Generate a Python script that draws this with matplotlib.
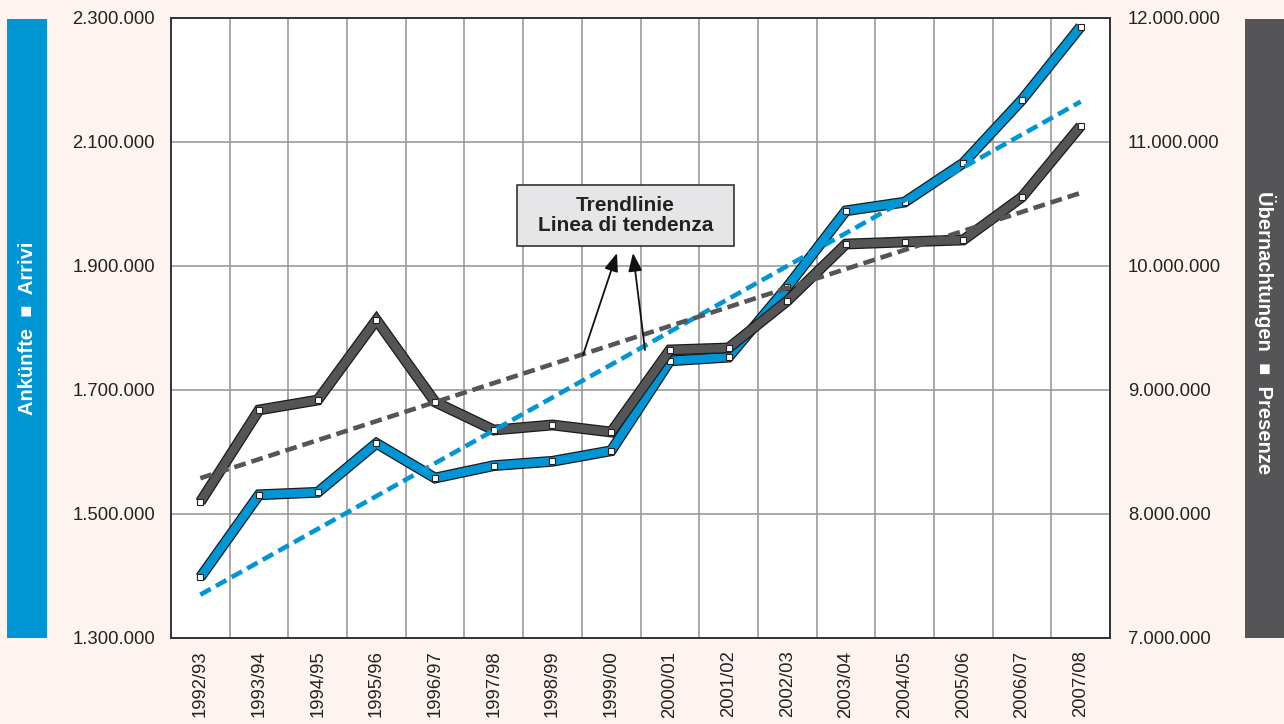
import matplotlib
matplotlib.use("Agg")
import matplotlib.pyplot as plt
import matplotlib.patheffects as pe
import numpy as np
from matplotlib.ticker import FuncFormatter, MultipleLocator

plt.rcParams['font.family'] = ['Liberation Sans', 'DejaVu Sans']

seasons = ["1992/93", "1993/94", "1994/95", "1995/96", "1996/97", "1997/98", "1998/99",
           "1999/00", "2000/01", "2001/02", "2002/03", "2003/04", "2004/05", "2005/06",
           "2006/07", "2007/08"]
arrivi = [1398000, 1531000, 1535000, 1614000, 1558000, 1578000, 1585000, 1602000,
          1747000, 1753000, 1866000, 1989000, 2003000, 2066000, 2168000, 2286000]
presenze = [8097000, 8839000, 8919000, 9565000, 8903000, 8677000, 8718000, 8661000,
            9323000, 9339000, 9718000, 10177000, 10194000, 10210000, 10556000, 11129000]
left_ticks = [1300000, 1500000, 1700000, 1900000, 2100000, 2300000]
right_ticks = [7000000, 8000000, 9000000, 10000000, 11000000, 12000000]

BLUE = "#0096d6"
DARK = "#555557"
BG = "#fdf4ef"

fig = plt.figure(figsize=(12.84, 7.24), dpi=100, facecolor=BG)
ax = fig.add_axes([171/1284, 1-638/724, 939/1284, 620/724])
ax2 = ax.twinx()
ax.set_zorder(1)
ax2.set_zorder(2)
ax2.patch.set_visible(False)
ax.set_facecolor("white")

x = np.arange(len(seasons))

def fmt(v, _):
    return f"{int(round(v)):,}".replace(",", ".")

ax.set_xlim(-0.5, len(seasons)-0.5)
ax.set_ylim(1300000, 2300000)
ax2.set_ylim(7000000, 12000000)
ax.set_yticks(left_ticks)
ax2.set_yticks(right_ticks)
ax.yaxis.set_major_formatter(FuncFormatter(fmt))
ax2.yaxis.set_major_formatter(FuncFormatter(fmt))
ax.set_xticks(x)
ax.set_xticklabels(seasons, rotation=90, fontsize=13.3, color="#222")
ax.xaxis.set_minor_locator(MultipleLocator(1, offset=0.5))
ax.grid(True, which="minor", axis="x", color="#9a9a9a", lw=1.2)
ax.grid(True, which="major", axis="y", color="#9a9a9a", lw=1.2)
ax.set_axisbelow(True)
for a in (ax, ax2):
    a.tick_params(axis="both", which="both", length=0, colors="#222")
    a.tick_params(axis="y", labelsize=13.3)
    for s in a.spines.values():
        s.set_color("#333")
        s.set_linewidth(1.2)
ax.tick_params(axis="y", pad=11.5)
ax2.tick_params(axis="y", pad=13)
ax.tick_params(axis="x", pad=9)

# trend lines (least squares fits of the series)
bt = np.polyval(np.polyfit(x, arrivi, 1), x)
dt = np.polyval(np.polyfit(x, presenze, 1), x)

stroke = [pe.Stroke(linewidth=7.8, foreground="#1a1a1a"), pe.Normal()]
ax.plot(x, arrivi, color=BLUE, lw=6.0, solid_joinstyle="miter", solid_capstyle="butt",
        path_effects=stroke, zorder=3)
ax.plot(x, arrivi, ls="none", marker="s", ms=5, mfc="white", mec="#222", mew=0.8, zorder=4)
ax2.plot(x, presenze, color=DARK, lw=6.0, solid_joinstyle="miter", solid_capstyle="butt",
         path_effects=stroke, zorder=3)
ax2.plot(x, presenze, ls="none", marker="s", ms=5, mfc="white", mec="#222", mew=0.8, zorder=3.5)
ax2.plot(x, np.interp(bt, [1300000, 2300000], [7000000, 12000000]),
         color=BLUE, lw=3.3, ls=(0, (2.6, 1.3)), dash_capstyle="butt", zorder=4)
ax2.plot(x, dt, color=DARK, lw=3.3, ls=(0, (2.6, 1.3)), dash_capstyle="butt", zorder=4)

# annotation box
ax2.add_patch(plt.Rectangle((0.3685, 0.6323), 0.2311, 0.0983, transform=ax2.transAxes,
                            fc="#e6e6e8", ec="#333", lw=1.2, zorder=6))
ax2.text(0.484, 0.6815, "Trendlinie\nLinea di tendenza", transform=ax2.transAxes,
         ha="center", va="center", fontsize=15, fontweight="bold", color="#222",
         linespacing=1.1, zorder=7)
for (sx, sy), (ex, ey) in [((0.4388, 0.4565), (0.475, 0.621)),
                           ((0.5048, 0.4645), (0.492, 0.621))]:
    ax2.annotate("", xy=(ex, ey), xytext=(sx, sy), xycoords="axes fraction",
                 textcoords="axes fraction",
                 arrowprops=dict(arrowstyle="-|>,head_length=1.1,head_width=0.42",
                                 color="#111", lw=1.3, shrinkA=0, shrinkB=0), zorder=6)

# side bars
fig.patches.append(plt.Rectangle((7/1284, 1-638/724), 40/1284, 619/724,
                                 transform=fig.transFigure, fc=BLUE, ec="none"))
fig.patches.append(plt.Rectangle((1245/1284, 1-638/724), 39/1284, 619/724,
                                 transform=fig.transFigure, fc=DARK, ec="none"))
fig.text(28/1284, 1-328/724, "Ankünfte  \u25a0  Arrivi", rotation=90, ha="center",
         va="center", color="white", fontsize=14.5, fontweight="bold",
         family=["Liberation Sans", "DejaVu Sans"])
fig.text(1265/1284, 1-333/724, "Übernachtungen  \u25a0  Presenze", rotation=-90,
         ha="center", va="center", color="white", fontsize=14.5, fontweight="bold",
         family=["Liberation Sans", "DejaVu Sans"])

fig.savefig("out.png", dpi=100, facecolor=BG)
